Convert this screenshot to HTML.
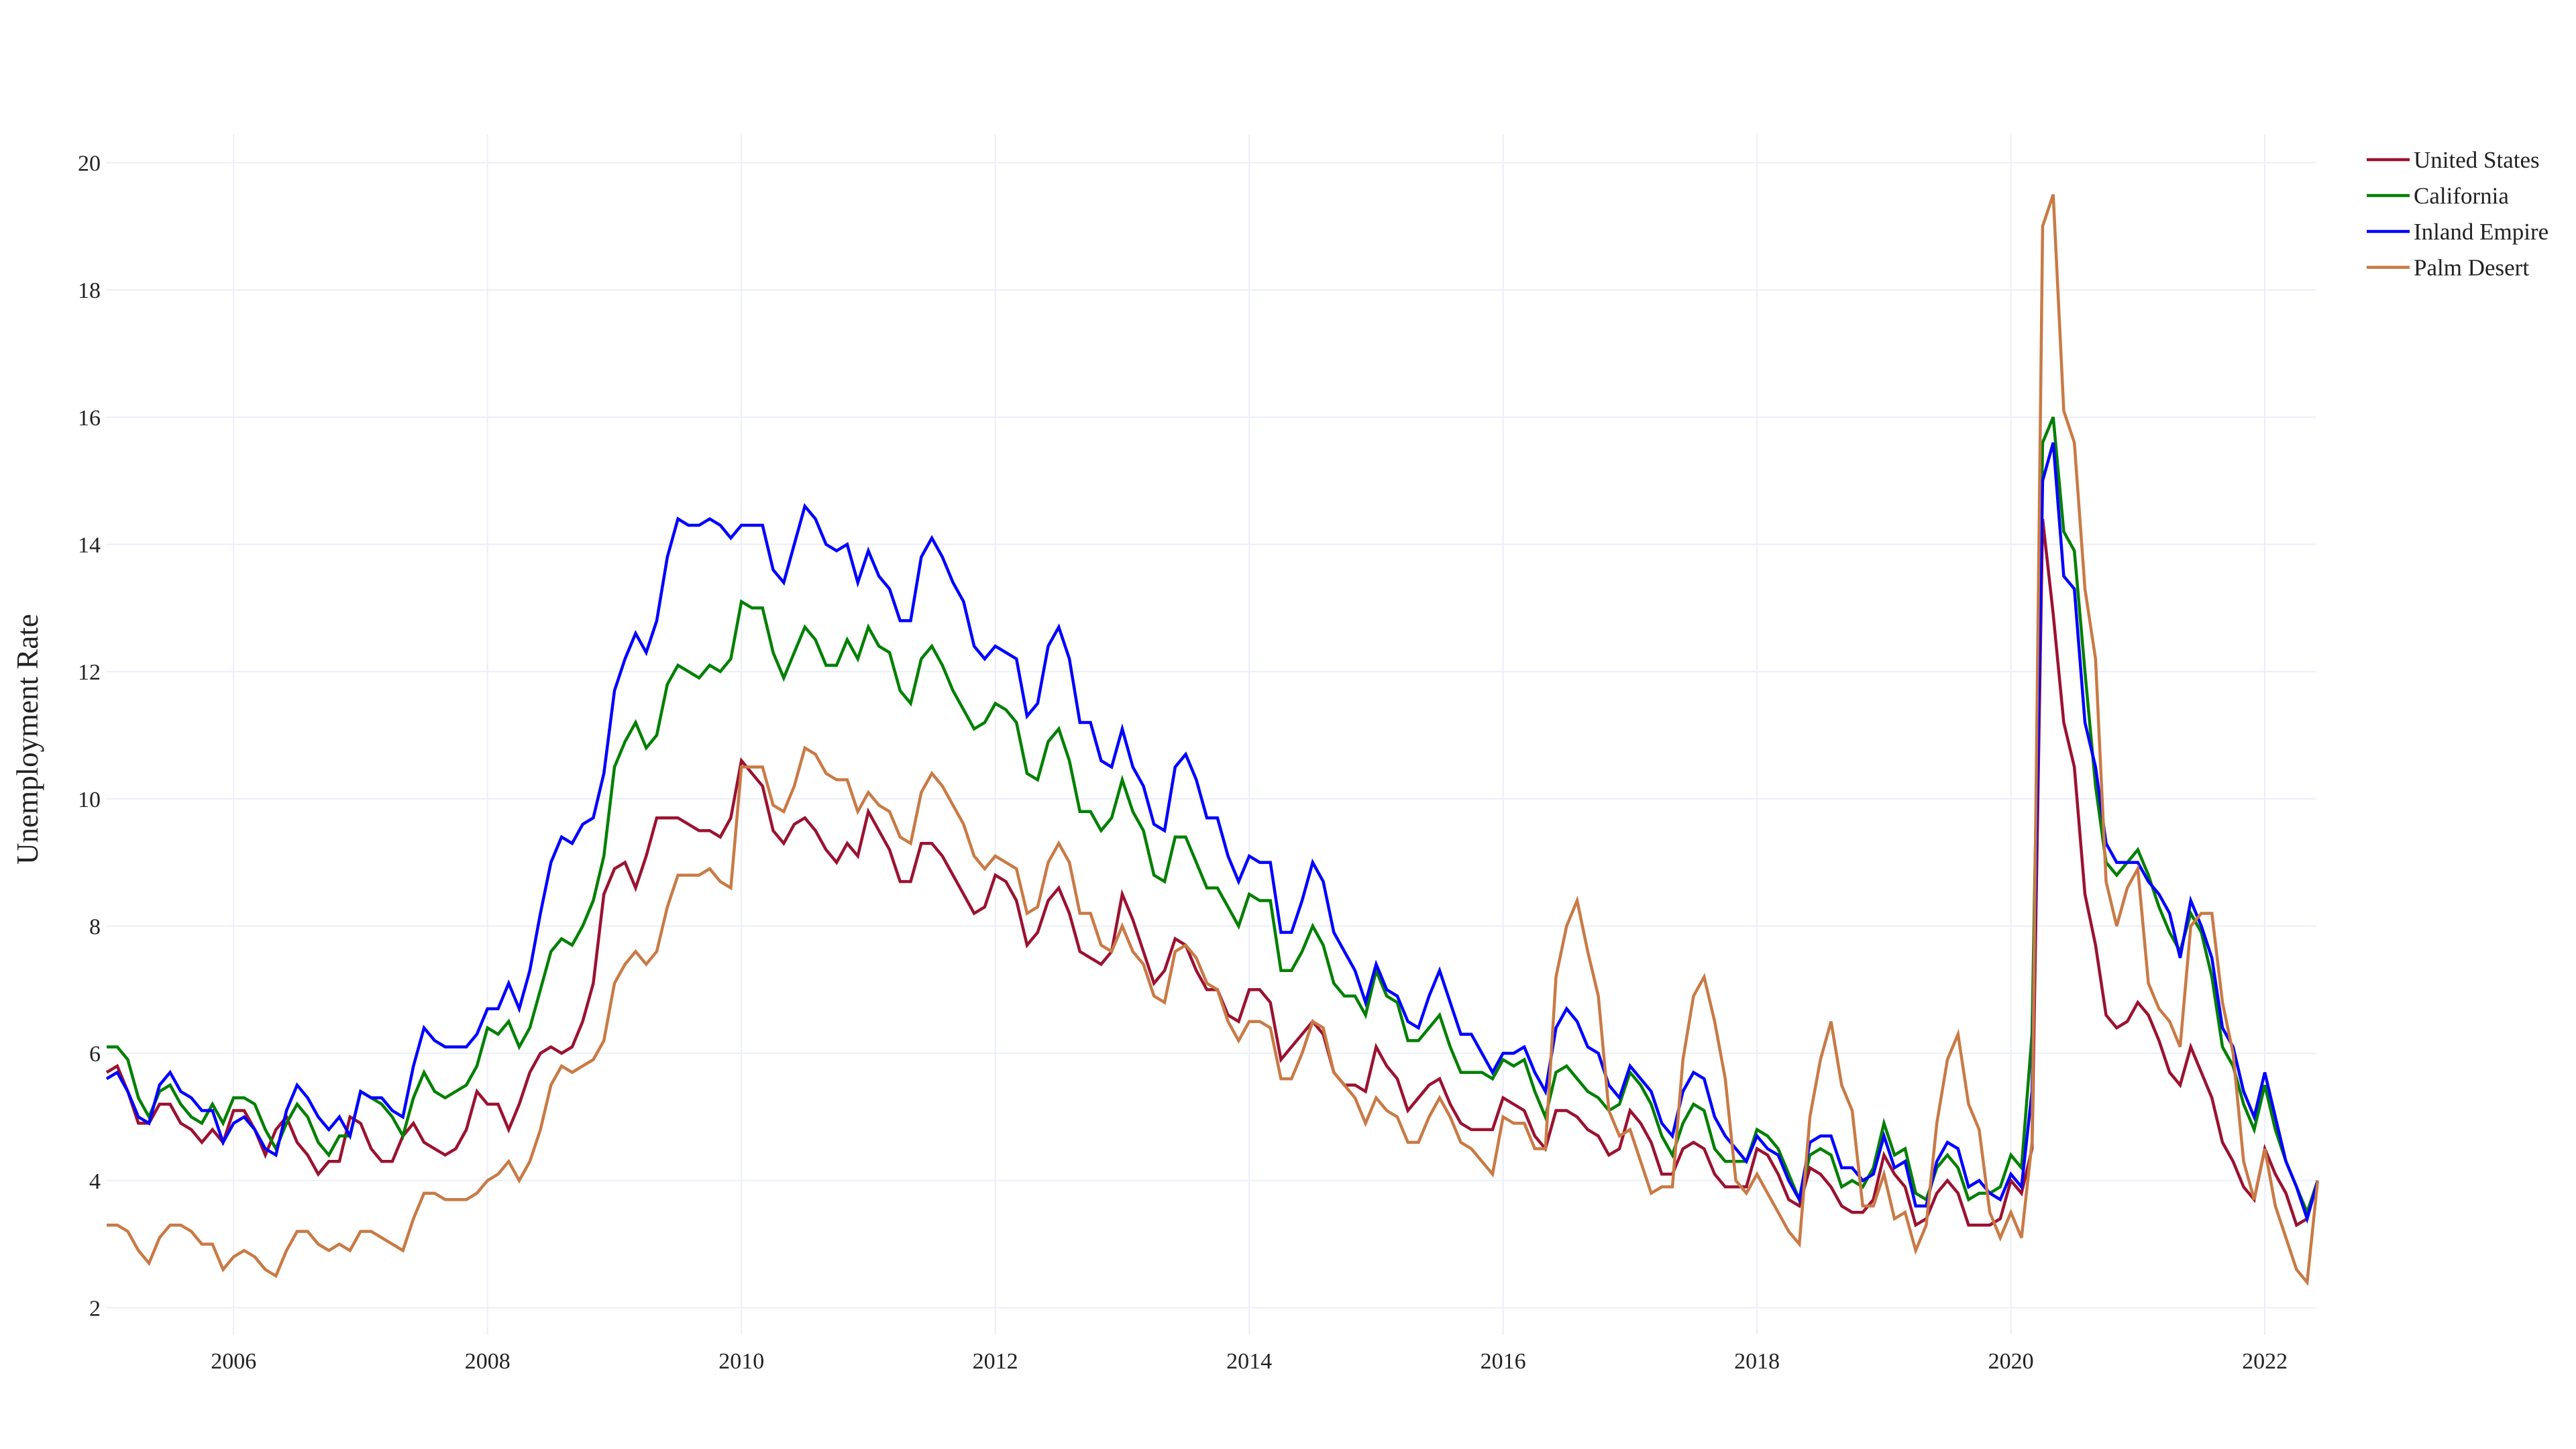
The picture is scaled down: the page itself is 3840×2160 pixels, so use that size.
<!DOCTYPE html>
<html><head><meta charset="utf-8">
<style>
html,body{margin:0;padding:0;background:#fff;}
svg{display:block;}
text{font-family:"Liberation Serif","Times New Roman",serif;fill:#222;}
</style></head>
<body>
<svg id="chart" width="3840" height="2160" viewBox="0 0 3840 2160" xmlns="http://www.w3.org/2000/svg">
<g id="grid"></g>
<g id="yticks"></g>
<g id="xticks"></g>
<text x="0" y="0" transform="translate(56,1102) rotate(-90)" text-anchor="middle" font-size="45">Unemployment Rate</text>
<g id="series"></g>
<g id="legend"></g>
</svg>
<script>
const startYear = 2005;
const yTicks = [2,4,6,8,10,12,14,16,18,20];
const xTickYears = [2006,2008,2010,2012,2014,2016,2018,2020,2022];
const seriesNames = ["United States","California","Inland Empire","Palm Desert"];
const usRate = [5.7,5.8,5.4,4.9,4.9,5.2,5.2,4.9,4.8,4.6,4.8,4.6,5.1,5.1,4.8,4.4,4.8,5.0,4.6,4.4,4.1,4.3,4.3,5.0,4.9,4.5,4.3,4.3,4.7,4.9,4.6,4.5,4.4,4.5,4.8,5.4,5.2,5.2,4.8,5.2,5.7,6.0,6.1,6.0,6.1,6.5,7.1,8.5,8.9,9.0,8.6,9.1,9.7,9.7,
9.7,9.6,9.5,9.5,9.4,9.7,10.6,10.4,10.2,9.5,9.3,9.6,9.7,9.5,9.2,9.0,9.3,9.1,9.8,9.5,9.2,8.7,8.7,9.3,9.3,9.1,8.8,8.5,8.2,8.3,8.8,8.7,8.4,7.7,7.9,8.4,8.6,8.2,7.6,7.5,7.4,7.6,8.5,8.1,7.6,7.1,7.3,7.8,7.7,7.3,7.0,7.0,6.6,6.5,7.0,7.0,6.8,
5.9,6.1,6.3,6.5,6.3,5.7,5.5,5.5,5.4,6.1,5.8,5.6,5.1,5.3,5.5,5.6,5.2,4.9,4.8,4.8,4.8,5.3,5.2,5.1,4.7,4.5,5.1,5.1,5.0,4.8,4.7,4.4,4.5,5.1,4.9,4.6,4.1,4.1,4.5,4.6,4.5,4.1,3.9,3.9,3.9,4.5,4.4,4.1,3.7,3.6,4.2,
4.1,3.9,3.6,3.5,3.5,3.7,4.4,4.1,3.9,3.3,3.4,3.8,4.0,3.8,3.3,3.3,3.3,3.4,4.0,3.8,4.5,14.4,12.9,11.2,10.5,8.5,7.7,6.6,6.4,6.5,6.8,6.6,6.2,5.7,5.5,6.1,5.7,5.3,4.6,4.3,3.9,3.7,4.5,4.1,3.8,3.3,3.4,4.0];
const caRate = [6.1,6.1,5.9,5.3,5.0,5.4,5.5,5.2,5.0,4.9,5.2,4.9,5.3,5.3,5.2,4.8,4.5,4.9,5.2,5.0,4.6,4.4,4.7,4.7,5.4,5.3,5.2,5.0,4.7,5.3,5.7,5.4,5.3,5.4,5.5,5.8,6.4,6.3,6.5,6.1,6.4,7.0,7.6,7.8,7.7,8.0,8.4,9.1,10.5,10.9,11.2,10.8,11.0,11.8,
12.1,12.0,11.9,12.1,12.0,12.2,13.1,13.0,13.0,12.3,11.9,12.3,12.7,12.5,12.1,12.1,12.5,12.2,12.7,12.4,12.3,11.7,11.5,12.2,12.4,12.1,11.7,11.4,11.1,11.2,11.5,11.4,11.2,10.4,10.3,10.9,11.1,10.6,9.8,9.8,9.5,9.7,10.3,9.8,9.5,8.8,8.7,9.4,9.4,9.0,8.6,8.6,8.3,8.0,8.5,8.4,8.4,
7.3,7.3,7.6,8.0,7.7,7.1,6.9,6.9,6.6,7.3,6.9,6.8,6.2,6.2,6.4,6.6,6.1,5.7,5.7,5.7,5.6,5.9,5.8,5.9,5.4,5.0,5.7,5.8,5.6,5.4,5.3,5.1,5.2,5.7,5.5,5.2,4.7,4.4,4.9,5.2,5.1,4.5,4.3,4.3,4.3,4.8,4.7,4.5,4.1,3.7,4.4,
4.5,4.4,3.9,4.0,3.9,4.2,4.9,4.4,4.5,3.8,3.7,4.2,4.4,4.2,3.7,3.8,3.8,3.9,4.4,4.2,6.3,15.6,16.0,14.2,13.9,12.0,10.2,9.0,8.8,9.0,9.2,8.8,8.3,7.9,7.6,8.2,7.9,7.2,6.1,5.8,5.2,4.8,5.5,4.8,4.3,3.9,3.5,4.0];
const ieRate = [5.6,5.7,5.4,5.0,4.9,5.5,5.7,5.4,5.3,5.1,5.1,4.6,4.9,5.0,4.8,4.5,4.4,5.1,5.5,5.3,5.0,4.8,5.0,4.7,5.4,5.3,5.3,5.1,5.0,5.8,6.4,6.2,6.1,6.1,6.1,6.3,6.7,6.7,7.1,6.7,7.3,8.2,9.0,9.4,9.3,9.6,9.7,10.4,11.7,12.2,12.6,12.3,12.8,13.8,
14.4,14.3,14.3,14.4,14.3,14.1,14.3,14.3,14.3,13.6,13.4,14.0,14.6,14.4,14.0,13.9,14.0,13.4,13.9,13.5,13.3,12.8,12.8,13.8,14.1,13.8,13.4,13.1,12.4,12.2,12.4,12.3,12.2,11.3,11.5,12.4,12.7,12.2,11.2,11.2,10.6,10.5,11.1,10.5,10.2,9.6,9.5,10.5,10.7,10.3,9.7,9.7,9.1,8.7,9.1,9.0,9.0,
7.9,7.9,8.4,9.0,8.7,7.9,7.6,7.3,6.8,7.4,7.0,6.9,6.5,6.4,6.9,7.3,6.8,6.3,6.3,6.0,5.7,6.0,6.0,6.1,5.7,5.4,6.4,6.7,6.5,6.1,6.0,5.5,5.3,5.8,5.6,5.4,4.9,4.7,5.4,5.7,5.6,5.0,4.7,4.5,4.3,4.7,4.5,4.4,4.0,3.7,4.6,
4.7,4.7,4.2,4.2,4.0,4.1,4.7,4.2,4.3,3.6,3.6,4.3,4.6,4.5,3.9,4.0,3.8,3.7,4.1,3.9,5.4,15.0,15.6,13.5,13.3,11.2,10.5,9.3,9.0,9.0,9.0,8.7,8.5,8.2,7.5,8.4,8.0,7.5,6.4,6.1,5.4,5.0,5.7,5.0,4.3,3.9,3.4,4.0];
const pdRate = [3.3,3.3,3.2,2.9,2.7,3.1,3.3,3.3,3.2,3.0,3.0,2.6,2.8,2.9,2.8,2.6,2.5,2.9,3.2,3.2,3.0,2.9,3.0,2.9,3.2,3.2,3.1,3.0,2.9,3.4,3.8,3.8,3.7,3.7,3.7,3.8,4.0,4.1,4.3,4.0,4.3,4.8,5.5,5.8,5.7,5.8,5.9,6.2,7.1,7.4,7.6,7.4,7.6,8.3,
8.8,8.8,8.8,8.9,8.7,8.6,10.5,10.5,10.5,9.9,9.8,10.2,10.8,10.7,10.4,10.3,10.3,9.8,10.1,9.9,9.8,9.4,9.3,10.1,10.4,10.2,9.9,9.6,9.1,8.9,9.1,9.0,8.9,8.2,8.3,9.0,9.3,9.0,8.2,8.2,7.7,7.6,8.0,7.6,7.4,6.9,6.8,7.6,7.7,7.5,7.1,7.0,6.5,6.2,6.5,6.5,6.4,
5.6,5.6,6.0,6.5,6.4,5.7,5.5,5.3,4.9,5.3,5.1,5.0,4.6,4.6,5.0,5.3,5.0,4.6,4.5,4.3,4.1,5.0,4.9,4.9,4.5,4.5,7.2,8.0,8.4,7.6,6.9,5.1,4.7,4.8,4.3,3.8,3.9,3.9,5.9,6.9,7.2,6.5,5.6,4.0,3.8,4.1,3.8,3.5,3.2,3.0,5.0,
5.9,6.5,5.5,5.1,3.6,3.6,4.1,3.4,3.5,2.9,3.3,4.9,5.9,6.3,5.2,4.8,3.5,3.1,3.5,3.1,4.6,19.0,19.5,16.1,15.6,13.3,12.2,8.7,8.0,8.6,8.9,7.1,6.7,6.5,6.1,8.0,8.2,8.2,6.8,6.0,4.3,3.7,4.5,3.6,3.1,2.6,2.4,4.0];

const NS = "http://www.w3.org/2000/svg";
const X0 = 159, DX = 15.77, PLOT_R = 3453;
const Y20 = 242.5, PER = 94.83;
function xScale(monthIndex){ return X0 + monthIndex*DX; }
function yScale(v){ return Y20 + (20 - v)*PER; }
function mk(tag, attrs, parent){ const e=document.createElementNS(NS,tag); for(const k in attrs) e.setAttribute(k,attrs[k]); parent.appendChild(e); return e; }

const grid = document.getElementById('grid');
const yt = document.getElementById('yticks');
const xt = document.getElementById('xticks');
yTicks.forEach(v=>{
  const y = yScale(v);
  const l = mk('line',{x1:X0,x2:PLOT_R,y1:y,y2:y,stroke:'#eceef8','stroke-width':2},grid);
  
  
  const t = mk('text',{x:150,y:y+12,'text-anchor':'end','font-size':34},yt);
  t.textContent = v;
  
  
});
xTickYears.forEach(yr=>{
  const x = xScale((yr-startYear)*12);
  const l = mk('line',{x1:x,x2:x,y1:200,y2:1990,stroke:'#eceef8','stroke-width':2},grid);
  
  
  const t = mk('text',{x:x,y:2040,'text-anchor':'middle','font-size':34},xt);
  t.textContent = yr;
  
  
});

const allSeries = [usRate, caRate, ieRate, pdRate];
const colors = ['#9b1230','#008000','#0000ff','#c97a45'];
const sg = document.getElementById('series');
allSeries.forEach((arr,i)=>{
  const d = arr.map((v,m)=>(m?'L':'M')+xScale(m).toFixed(1)+','+yScale(v).toFixed(1)).join(' ');
  const p = mk('path',{d:d,fill:'none',stroke:colors[i],'stroke-width':4.5,'stroke-linejoin':'miter'},sg);
  
  
});

const lg = document.getElementById('legend');
seriesNames.forEach((n,i)=>{
  const y = 238 + i*53.5;
  const g = mk('g',{},lg);
  
  
  mk('line',{x1:3528,x2:3592,y1:y,y2:y,stroke:colors[i],'stroke-width':4.5},g);
  const t = mk('text',{x:3598,y:y+12,'font-size':35},g);
  t.textContent = n;
});
</script>
</body></html>
